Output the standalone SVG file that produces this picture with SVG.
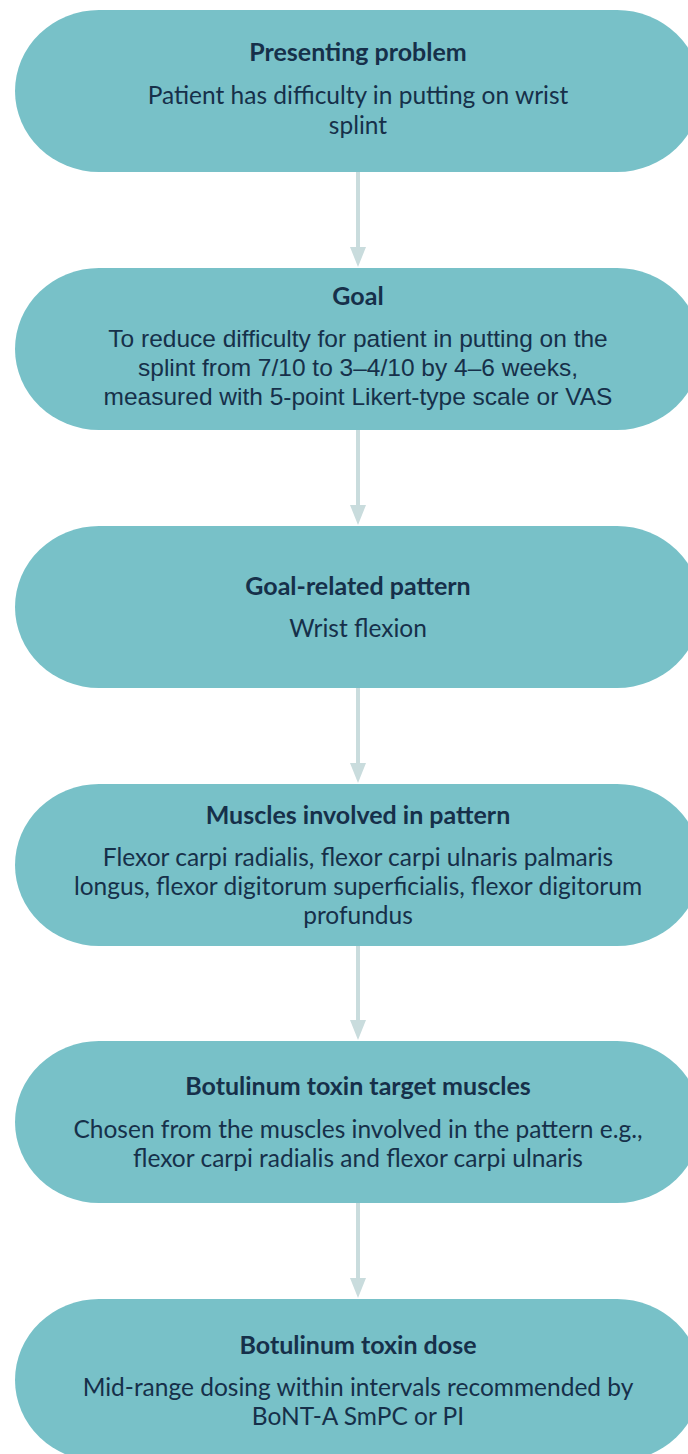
<svg xmlns="http://www.w3.org/2000/svg" width="688" height="1454" viewBox="0 0 688 1454">
<style>
.node{fill:#78c1c8}
.t{font-family:Lato,"Liberation Sans",sans-serif;font-weight:bold;font-size:25px;fill:#16304a;text-anchor:middle}
.b{font-family:Lato,"Liberation Sans",sans-serif;font-size:24.5px;fill:#16304a;text-anchor:middle}
.ba{font-family:"Liberation Sans",Arial,sans-serif;font-size:24.5px;fill:#16304a;text-anchor:middle}
.edge{stroke:#c9dcdd;stroke-width:4;fill:none}
.head{fill:#c9dcdd}
</style>
<rect width="688" height="1454" fill="#ffffff"/>
<g id="connectors">
  <line class="edge" x1="358" y1="172" x2="358" y2="250"/>
  <polygon class="head" points="350,247 366,247 358,267"/>
  <line class="edge" x1="358" y1="430" x2="358" y2="508"/>
  <polygon class="head" points="350,505 366,505 358,525"/>
  <line class="edge" x1="358" y1="688" x2="358" y2="766"/>
  <polygon class="head" points="350,763 366,763 358,783"/>
  <line class="edge" x1="358" y1="946" x2="358" y2="1023"/>
  <polygon class="head" points="350,1020 366,1020 358,1040"/>
  <line class="edge" x1="358" y1="1203" x2="358" y2="1281"/>
  <polygon class="head" points="350,1278 366,1278 358,1298"/>
</g>
<g id="node1">
  <rect class="node" x="15" y="10" width="686" height="162" rx="84" ry="81"/>
  <text class="t" x="358" y="61">Presenting problem</text>
  <text class="b" x="358" y="104">Patient has difficulty in putting on wrist</text>
  <text class="b" x="358" y="134">splint</text>
</g>
<g id="node2">
  <rect class="node" x="15" y="268" width="686" height="162" rx="84" ry="81"/>
  <text class="t" x="358" y="305">Goal</text>
  <text class="ba" x="358" y="347">To reduce difficulty for patient in putting on the</text>
  <text class="ba" x="358" y="376">splint from 7/10 to 3–4/10 by 4–6 weeks,</text>
  <text class="ba" x="358" y="405">measured with 5-point Likert-type scale or VAS</text>
</g>
<g id="node3">
  <rect class="node" x="15" y="526" width="686" height="162" rx="84" ry="81"/>
  <text class="t" x="358" y="595">Goal-related pattern</text>
  <text class="b" x="358" y="637">Wrist flexion</text>
</g>
<g id="node4">
  <rect class="node" x="15" y="784" width="686" height="162" rx="84" ry="81"/>
  <text class="t" x="358" y="824">Muscles involved in pattern</text>
  <text class="b" x="358" y="866">Flexor carpi radialis, flexor carpi ulnaris palmaris</text>
  <text class="b" x="358" y="895">longus, flexor digitorum superficialis, flexor digitorum</text>
  <text class="b" x="358" y="924">profundus</text>
</g>
<g id="node5">
  <rect class="node" x="15" y="1041" width="686" height="162" rx="84" ry="81"/>
  <text class="t" x="358" y="1095">Botulinum toxin target muscles</text>
  <text class="b" x="358" y="1138">Chosen from the muscles involved in the pattern e.g.,</text>
  <text class="b" x="358" y="1167">flexor carpi radialis and flexor carpi ulnaris</text>
</g>
<g id="node6">
  <rect class="node" x="15" y="1299" width="686" height="162" rx="84" ry="81"/>
  <text class="t" x="358" y="1354">Botulinum toxin dose</text>
  <text class="b" x="358" y="1396">Mid-range dosing within intervals recommended by</text>
  <text class="b" x="358" y="1425">BoNT-A SmPC or PI</text>
</g>
</svg>
